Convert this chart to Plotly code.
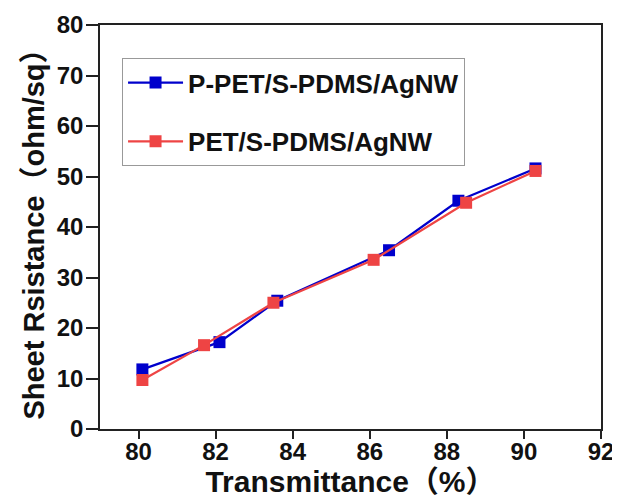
import plotly.graph_objects as go

x_blue = [80.1, 82.1, 83.6, 86.5, 88.3, 90.3]
y_blue = [11.8, 17.2, 25.4, 35.4, 45.2, 51.6]
x_red = [80.1, 81.7, 83.5, 86.1, 88.5, 90.3]
y_red = [9.7, 16.6, 25.0, 33.5, 44.8, 51.1]
name_blue = "P-PET/S-PDMS/AgNW"
name_red = "PET/S-PDMS/AgNW"
x_ticks = [80, 82, 84, 86, 88, 90, 92]
y_ticks = [0, 10, 20, 30, 40, 50, 60, 70, 80]

FONT = "Liberation Sans, Arial, Noto Sans CJK SC, sans-serif"

fig = go.Figure()
fig.add_trace(go.Scatter(x=x_blue, y=y_blue, name=name_blue, mode="lines+markers",
                         legendgroup="a",
                         line=dict(color="#0000CC", width=2.2),
                         marker=dict(symbol="square", size=12, color="#0000CC")))
fig.add_trace(go.Scatter(x=x_red, y=y_red, name=name_red, mode="lines+markers",
                         legendgroup="b",
                         line=dict(color="#EE4444", width=2.2),
                         marker=dict(symbol="square", size=12, color="#EE4444")))

axis_common = dict(showline=True, linecolor="#222", linewidth=1.5, mirror=True,
                   ticks="outside", tickwidth=1.5, tickcolor="#222",
                   showgrid=False, zeroline=False, automargin=False)

# page body has a default 8px margin; compensate so the plot lands where the reference has it
fig.update_layout(
    width=612, height=493,
    margin=dict(l=92, r=19, t=17, b=72),
    paper_bgcolor="white", plot_bgcolor="white",
    font=dict(family=FONT, color="#111"),
    showlegend=True,
    legend=dict(x=0.044, y=0.918, xanchor="left", yanchor="top",
                bordercolor="#999", borderwidth=1, bgcolor="white",
                font=dict(family=FONT, size=26, color="#111", weight="bold"),
                itemwidth=55,
                tracegroupgap=22, traceorder="grouped"),
    xaxis=dict(range=[79, 92], tickvals=x_ticks, ticklen=8, ticklabelstandoff=-8,
               tickfont=dict(family=FONT, size=24, color="#111", weight="bold"),
               title=dict(text="<b>Transmittance（%）</b>", font=dict(family=FONT, size=30), standoff=0),
               **axis_common),
    yaxis=dict(range=[0, 80], tickvals=y_ticks, ticklen=12, ticklabelstandoff=-2,
               tickfont=dict(family=FONT, size=24, color="#111", weight="bold"),
               title=dict(text="<b>Sheet Rsistance（ohm/sq）</b>", font=dict(family=FONT, size=29), standoff=4),
               **axis_common),
)

fig.write_html("out.html")
